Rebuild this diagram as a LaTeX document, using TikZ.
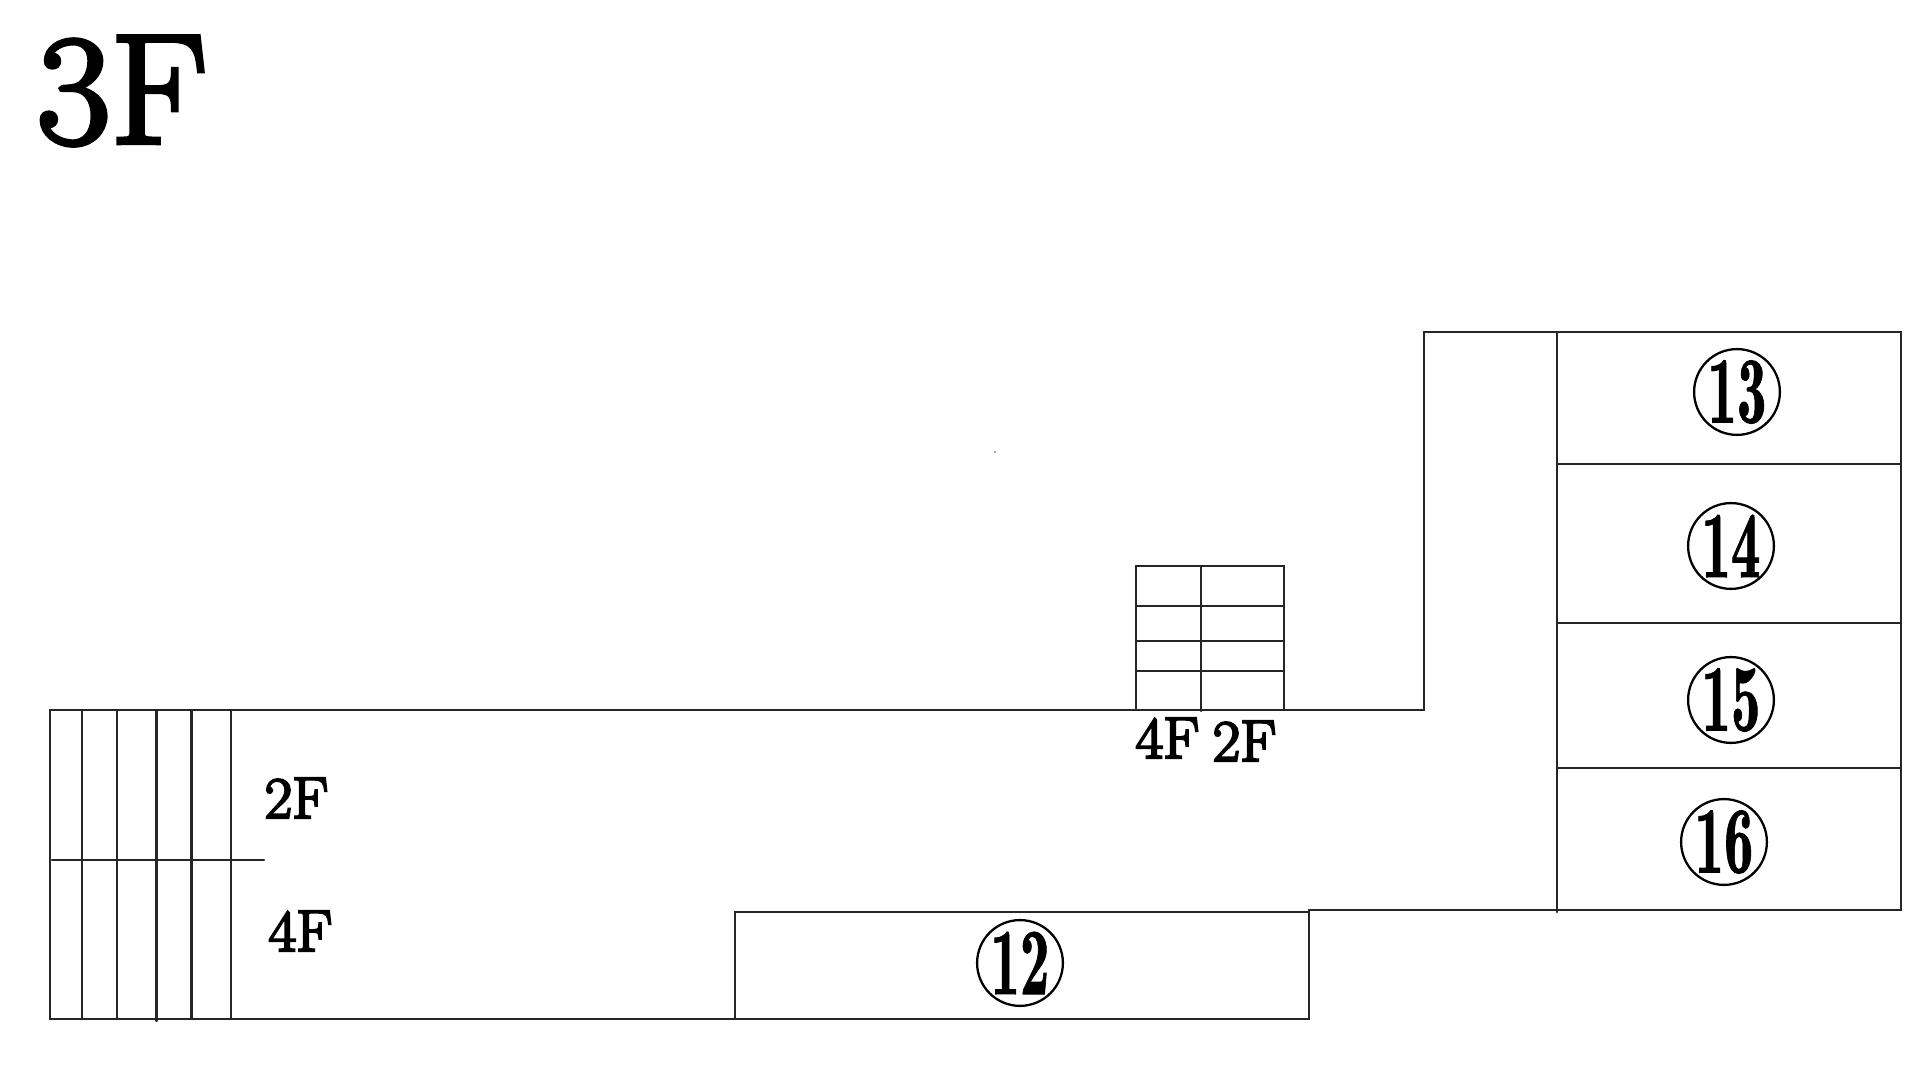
\documentclass[tikz,border=0pt]{standalone}
\usepackage{fontspec}
\setmainfont{Latin Modern Roman}
\newfontfamily\labfont{Latin Modern Roman}[FakeBold=4]
\newfontfamily\titlefont{Latin Modern Roman}[FakeBold=3]
\newfontfamily\numfont{Latin Modern Roman Demi}[FakeBold=1]
\newcommand{\lab}[1]{\fontsize{16.7pt}{18pt}\labfont\scalebox{1.02}[1]{#1}}
\newcommand{\numb}[1]{\fontsize{27pt}{29pt}\numfont\scalebox{0.62}[1]{#1}}
\tikzset{
  wall/.style={draw=black!85,line width=0.72pt,line cap=round,line join=miter},
  thin wall/.style={draw=black!85,line width=0.62pt,line cap=round},
  numcirc/.style={circle,draw=black,line width=0.65pt,minimum size=24.4pt,inner sep=-3pt},
  floorlab/.style={inner sep=0pt,text=black},
}
\begin{document}
\begin{tikzpicture}[x=0.01cm,y=-0.01cm]
\useasboundingbox (0,0) rectangle (1920,1080);
% title
\node[floorlab,anchor=base west] (title) at (36,143)
  {\fontsize{44.5pt}{48pt}\titlefont\scalebox{1.03}[1]{3F}};
% outline
\draw[wall] (50,710) -- (1424,710) -- (1424,332) -- (1901,332) -- (1901,910) -- (1309,910)
  -- (1309,1019) -- (50,1019) -- cycle;
% room 12
\draw[wall] (1309,912) -- (735,912) -- (735,1019);
% right rooms
\draw[wall] (1557,332) -- (1557,912);
\draw[wall] (1557,464) -- (1901,464);
\draw[wall] (1557,623) -- (1901,623);
\draw[wall] (1557,768) -- (1901,768);
% left stairs
\foreach \xx in {82,117,156.5,191.5,231}{\draw[thin wall] (\xx,710) -- (\xx,1019);}
\draw[thin wall] (156.5,1019) -- (156.5,1021);
\draw[thin wall] (52,860) -- (264,860);
% middle stairs
\draw[thin wall] (1136,566) -- (1284,566);
\draw[thin wall] (1136,566) -- (1136,710);
\draw[thin wall] (1201,566) -- (1201,711);
\draw[thin wall] (1284,566) -- (1284,710);
\foreach \yy in {606,641,671}{\draw[thin wall] (1136,\yy) -- (1284,\yy);}
% speck
\fill[black!70] (995,452) circle (0.9);
% floor labels
\node[floorlab,anchor=base west] (a) at (264,818) {\lab{2F}};
\node[floorlab,anchor=base west] (b) at (268,951) {\lab{4F}};
\node[floorlab,anchor=base west] (c) at (1135,758) {\lab{4F}};
\node[floorlab,anchor=base west] (d) at (1212,761) {\lab{2F}};
% numbers
\node[numcirc] (n12) at (1020,963) {\numb{12}};
\node[numcirc] (n13) at (1737,392) {\numb{13}};
\node[numcirc] (n14) at (1731,546) {\numb{14}};
\node[numcirc] (n15) at (1731,700) {\numb{15}};
\node[numcirc] (n16) at (1724,842) {\numb{16}};
\end{tikzpicture}
\end{document}
